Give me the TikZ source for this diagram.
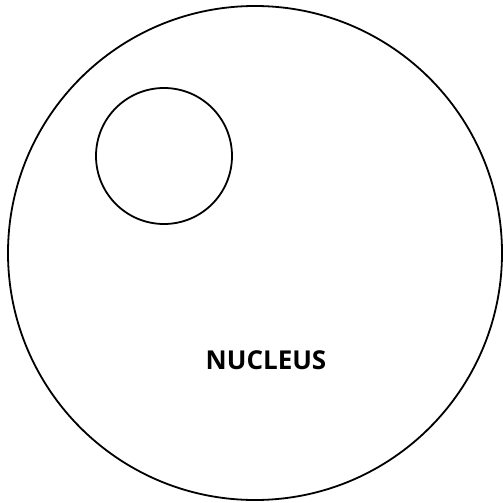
\documentclass[tikz,border=0pt]{standalone}
\usepackage{fontspec}
\setmainfont{Open Sans}
\begin{document}
\begin{tikzpicture}[x=1pt,y=-1pt,
  ring/.style={draw=black,line width=1.8pt,circle,inner sep=0pt},
  lbl/.style={font=\fontsize{26}{30}\selectfont\bfseries,inner sep=0pt}]
\useasboundingbox (0,0) rectangle (503,503);
\node[ring,minimum size=494pt] (cell) at (255,253) {};
\node[ring,minimum size=136pt] (vac) at (164,156) {};
\node[lbl,anchor=base] (nuc) at (266,369) {NUCLEUS};
\end{tikzpicture}
\end{document}
